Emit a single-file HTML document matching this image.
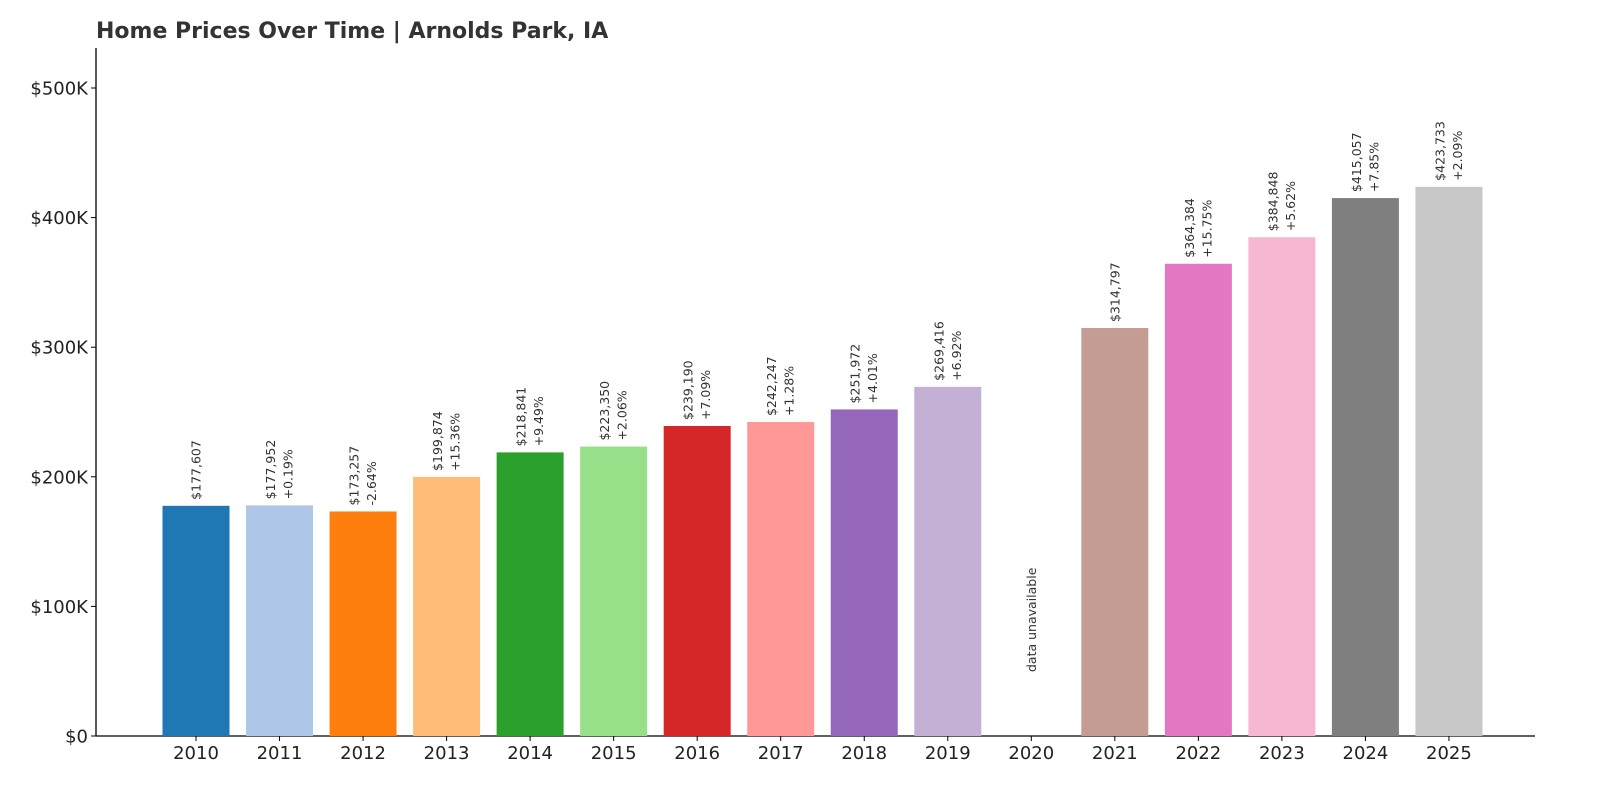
<!DOCTYPE html>
<html><head><meta charset="utf-8"><style>
html,body{margin:0;padding:0;background:#fff;}
svg{display:block;font-family:"DejaVu Sans","Liberation Sans",sans-serif;}
</style></head><body>
<svg id="chart" width="1600" height="800" viewBox="0 0 1600 800">
<text x="96" y="38" font-size="22" font-weight="bold" fill="#333">Home Prices Over Time | Arnolds Park, IA</text>
<g id="axes"></g>
<g id="bars"></g>
</svg>
<script>
const years=["2010","2011","2012","2013","2014","2015","2016","2017","2018","2019","2020","2021","2022","2023","2024","2025"];
const prices=[177607,177952,173257,199874,218841,223350,239190,242247,251972,269416,null,314797,364384,384848,415057,423733];
const changes=["","+0.19%","-2.64%","+15.36%","+9.49%","+2.06%","+7.09%","+1.28%","+4.01%","+6.92%","","","+15.75%","+5.62%","+7.85%","+2.09%"];
const colors=["#1f77b4","#aec7e8","#ff7f0e","#ffbb78","#2ca02c","#98df8a","#d62728","#ff9896","#9467bd","#c5b0d5","#8c564b","#c49c94","#e377c2","#f7b6d2","#7f7f7f","#c7c7c7"];
const yTicks=[0,100000,200000,300000,400000,500000];
const yTickLabels=["$0","$100K","$200K","$300K","$400K","$500K"];
const NS="http://www.w3.org/2000/svg";
const y0=736, pxPer=129.6/100000, x0=196, step=83.53, bw=67;
const yScale=v=>y0-v*pxPer;
const xScale=i=>x0+step*i;
function mk(tag,attrs,parent){const e=document.createElementNS(NS,tag);for(const k in attrs)e.setAttribute(k,attrs[k]);parent.appendChild(e);return e;}
const axes=document.getElementById('axes'), bars=document.getElementById('bars');
const yAxis=mk('line',{x1:96,y1:48,x2:96,y2:y0,stroke:'#000','stroke-width':1.3},axes);


const xAxis=mk('line',{x1:96,y1:y0,x2:1535,y2:y0,stroke:'#000','stroke-width':1.3},axes);


yTicks.forEach((v,i)=>{
  const y=yScale(v);
  mk('line',{x1:91,y1:y,x2:96,y2:y,stroke:'#000'},axes);
  const t=mk('text',{x:88,y:y+6.5,'text-anchor':'end','font-size':18,fill:'#222'},axes);
  t.textContent=yTickLabels[i];
  
  
});
years.forEach((yr,i)=>{
  const cx=xScale(i);
  mk('line',{x1:cx,y1:y0,x2:cx,y2:y0+5,stroke:'#000'},axes);
  const t=mk('text',{x:cx,y:759,'text-anchor':'middle','font-size':18,fill:'#222'},axes);
  t.textContent=yr;
  
  
  const v=prices[i];
  if(v===null){
    const g=mk('g',{transform:`translate(${cx},672) rotate(-90)`},bars);
    const na=mk('text',{x:0,y:4.5,'font-size':12.5,fill:'#333'},g);
    na.textContent='data unavailable';
    
    
    return;
  }
  const top=yScale(v);
  const r=mk('rect',{x:cx-bw/2,y:top,width:bw,height:y0-top,fill:colors[i]},bars);
  
  
  const g=mk('g',{transform:`translate(${cx},${top-6}) rotate(-90)`},bars);
  const label='$'+v.toLocaleString('en-US');
  if(changes[i]){
    const a=mk('text',{x:0,y:-4.5,'font-size':12.5,fill:'#333'},g);
    a.textContent=label;
    
    
    const b=mk('text',{x:0,y:13,'font-size':12.5,fill:'#333'},g);
    b.textContent=changes[i];
    
    
  } else {
    const a=mk('text',{x:0,y:4.5,'font-size':12.5,fill:'#333'},g);
    a.textContent=label;
    
    
  }
});
</script>
</body></html>
